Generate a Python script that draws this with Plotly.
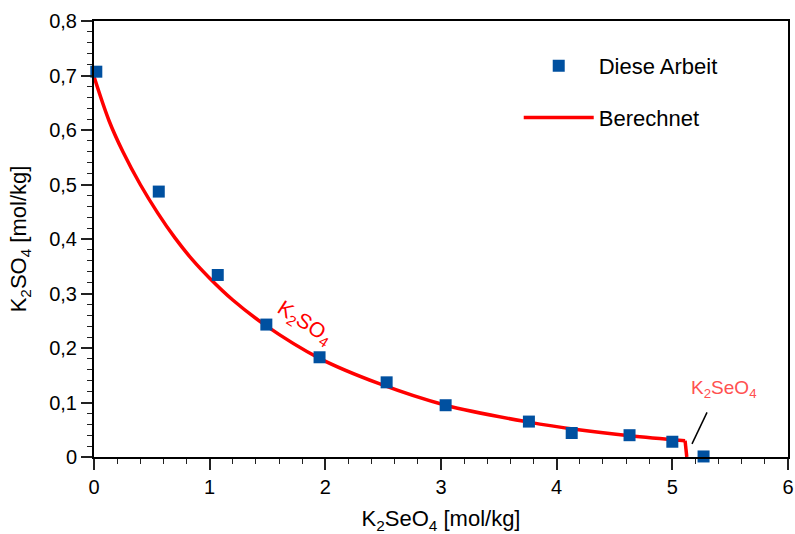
import plotly.graph_objects as go

# Experimental data (Diese Arbeit)
x_exp = [0.02, 0.56, 1.07, 1.49, 1.95, 2.53, 3.04, 3.76, 4.13, 4.63, 5.00, 5.27]
y_exp = [0.707, 0.487, 0.334, 0.243, 0.183, 0.137, 0.095, 0.065, 0.044, 0.040, 0.028, 0.001]

# Calculated solubility curve (Berechnet), K2SO4 branch
x_calc = [0.0, 0.13, 0.25, 0.4, 0.55, 0.7, 0.85, 1.0, 1.2, 1.48, 1.95, 2.46, 3.04, 3.76, 4.19, 4.63, 5.11]
y_calc = [0.698, 0.617, 0.560, 0.500, 0.448, 0.402, 0.362, 0.328, 0.288, 0.242, 0.181, 0.135, 0.095, 0.064, 0.050, 0.039, 0.030]
# K2SeO4 branch (near-vertical drop)
x_calc2 = [5.11, 5.125]
y_calc2 = [0.030, 0.0]

x_ticks = [0, 1, 2, 3, 4, 5, 6]
x_ticktext = ["0", "1", "2", "3", "4", "5", "6"]
y_ticks = [0, 0.1, 0.2, 0.3, 0.4, 0.5, 0.6, 0.7, 0.8]
y_ticktext = ["0", "0,1", "0,2", "0,3", "0,4", "0,5", "0,6", "0,7", "0,8"]

FONT = "Liberation Sans, Arial, sans-serif"
RED = "#ff0000"
BLUE = "#0050a0"

fig = go.Figure()
fig.add_trace(go.Scatter(
    x=x_calc, y=y_calc, mode="lines", name="Berechnet",
    line=dict(color=RED, width=3.5, shape="spline", smoothing=1.0),
    legendgroup="b", legendrank=2,
))
fig.add_trace(go.Scatter(
    x=x_calc2, y=y_calc2, mode="lines", name="Berechnet",
    line=dict(color=RED, width=3.5), showlegend=False, legendgroup="b", legendrank=3,
))
fig.add_trace(go.Scatter(
    x=x_exp, y=y_exp, mode="markers", name="Diese Arbeit",
    marker=dict(symbol="square", size=12, color=BLUE),
    cliponaxis=False, legendgroup="a", legendrank=1,
))

axis_common = dict(
    showline=True, linecolor="black", linewidth=2, mirror=True,
    ticks="outside", ticklen=11, tickwidth=1.5, tickcolor="#222",
    showgrid=False, zeroline=False, automargin=False,
    tickfont=dict(family=FONT, size=20, color="black"),
)

fig.update_xaxes(
    range=[0, 6], tickvals=x_ticks, ticktext=x_ticktext,
    title=dict(text="K<sub>2</sub>SeO<sub>4</sub> [mol/kg]",
               font=dict(family=FONT, size=22, color="black"), standoff=16),
    minor=dict(ticks="outside", ticklen=5, tickwidth=1.2, tickcolor="#222", dtick=0.2),
    **axis_common,
)
fig.update_yaxes(
    range=[0, 0.8], tickvals=y_ticks, ticktext=y_ticktext,
    title=dict(text="K<sub>2</sub>SO<sub>4</sub> [mol/kg]",
               font=dict(family=FONT, size=22, color="black"), standoff=16),
    minor=dict(ticks="outside", ticklen=5, tickwidth=1.2, tickcolor="#222", dtick=0.02),
    **axis_common,
)

fig.add_annotation(
    x=1.82, y=0.245, xref="x", yref="y", text="K<sub>2</sub>SO<sub>4</sub>",
    showarrow=False, textangle=33,
    font=dict(family=FONT, size=21, color=RED),
)
fig.add_annotation(
    x=5.45, y=0.125, xref="x", yref="y", text="K<sub>2</sub>SeO<sub>4</sub>",
    showarrow=False,
    font=dict(family=FONT, size=19, color="#ff5050"),
)
fig.add_shape(type="line", xref="x", yref="y", x0=5.17, y0=0.024, x1=5.30, y1=0.082,
              line=dict(color="black", width=1.5))

fig.update_layout(
    width=795, height=534,
    margin=dict(l=94, r=7, t=21, b=77),
    paper_bgcolor="white", plot_bgcolor="white",
    font=dict(family=FONT, size=20, color="black"),
    showlegend=True,
    legend=dict(
        x=0.612, y=0.945, xanchor="left", yanchor="top",
        bgcolor="rgba(0,0,0,0)", traceorder="grouped", tracegroupgap=20,
        font=dict(family=FONT, size=22, color="black"),
        itemwidth=70,
    ),
)

fig.write_html("out.html")
